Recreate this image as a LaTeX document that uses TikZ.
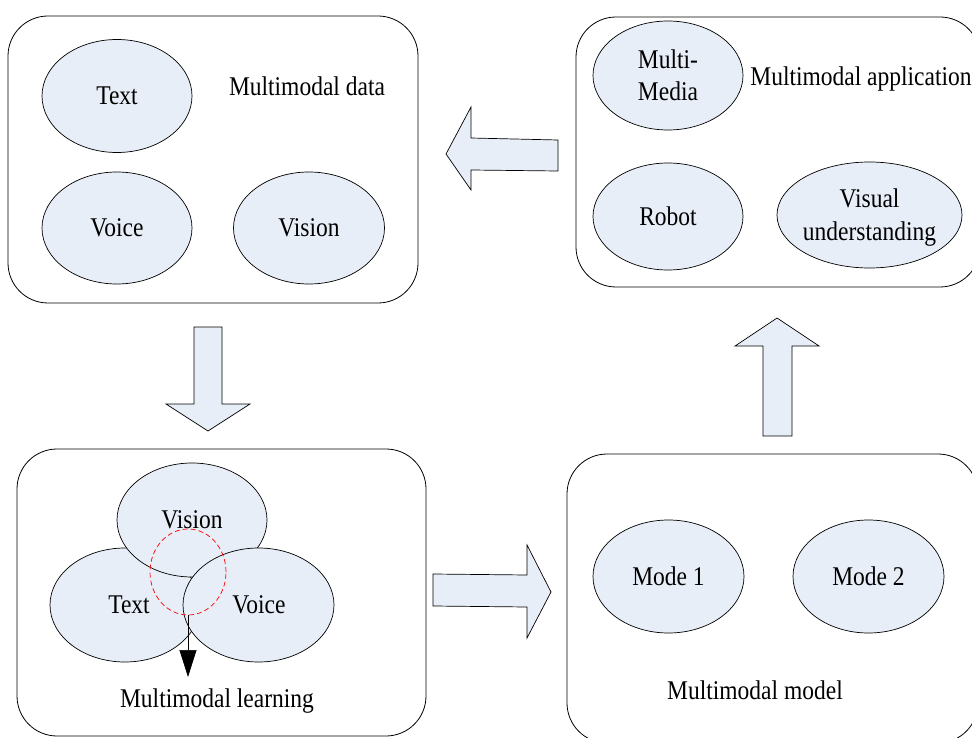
\documentclass[tikz,border=0pt]{standalone}
\usepackage{fontspec}
\setmainfont{Liberation Serif}
\usetikzlibrary{shapes.geometric,arrows.meta}
\definecolor{ellfill}{RGB}{232,238,247}
\newcommand{\lbl}[1]{\makebox[0pt]{\raisebox{-2.5pt}[\height][\depth]{\scalebox{1}[1.15]{\begin{tabular}{@{}c@{}}#1\end{tabular}}}}}
\newcommand{\plaintxt}[1]{\scalebox{1}[1.15]{#1}}
\begin{document}
\begin{tikzpicture}[x=1pt,y=-1pt,
  every node/.style={font=\fontsize{23.5}{28.2}\selectfont},
  panel/.style={draw=black, line width=0.8pt, rounded corners=40pt, inner sep=0pt},
  oval/.style={ellipse, draw=black, line width=0.7pt, fill=ellfill, inner sep=0pt},
  caption/.style={anchor=base, inner sep=0pt},
  blockarrow/.style={draw=black, line width=0.7pt, fill=ellfill, line join=miter},
]
\useasboundingbox (0,0) rectangle (972,738);

% panels
\node[panel, minimum width=410pt, minimum height=287pt] (data) at (213,159.5) {};
\node[panel, minimum width=404pt, minimum height=270pt] (app) at (778,152) {};
\node[panel, minimum width=409pt, minimum height=287pt] (learn) at (221.5,592.5) {};
\node[panel, minimum width=411pt, minimum height=289pt] (model) at (772.5,598.5) {};

% multimodal data
\node[oval, minimum width=150pt, minimum height=113pt] (dtext) at (117,96) {\lbl{Text}};
\node[oval, minimum width=150pt, minimum height=112pt] (dvoice) at (117,228) {\lbl{Voice}};
\node[oval, minimum width=151pt, minimum height=112pt] (dvision) at (309,228) {\lbl{Vision}};
\node[caption] (capdata) at (307,96) {\plaintxt{Multimodal data}};

% multimodal application
\node[oval, minimum width=150pt, minimum height=109pt] (amedia) at (668,75.5) {\lbl{Multi-\\Media}};
\node[oval, minimum width=150pt, minimum height=107pt] (arobot) at (668,216.5) {\lbl{Robot}};
\node[oval, minimum width=185pt, minimum height=106pt] (avisual) at (869.5,215) {\lbl{Visual\\understanding}};
\node[caption] (capapp) at (861,86) {\plaintxt{Multimodal application}};

% multimodal learning
\node[oval, minimum width=150pt, minimum height=114pt] (ltext) at (125,605) {};
\node[oval, minimum width=150pt, minimum height=114pt] (lvision) at (192,520) {\lbl{Vision}};
\node[oval, minimum width=151pt, minimum height=114pt] (lvoice) at (258.5,605) {};
\node[inner sep=0pt] (ltextlbl) at (129,605) {\lbl{Text}};
\node[inner sep=0pt] (lvoicelbl) at (259,605) {\lbl{Voice}};
\node[ellipse, draw=red, line width=0.7pt, dash pattern=on 5pt off 3pt, minimum width=76pt, minimum height=86pt, inner sep=0pt] (inter) at (188,572) {};
\coordinate (lend) at (188,677);
\draw[line width=0.7pt, -{Triangle[length=27pt,width=17pt]}] (inter.south) -- (lend);
\node[caption] (caplearn) at (217,707) {\plaintxt{Multimodal learning}};

% multimodal model
\node[oval, minimum width=151pt, minimum height=113pt] (mode1) at (668.5,576.5) {\lbl{Mode 1}};
\node[oval, minimum width=151pt, minimum height=113pt] (mode2) at (868.5,576.5) {\lbl{Mode 2}};
\node[caption] (capmodel) at (755,699) {\plaintxt{Multimodal model}};

% block arrows
\draw[blockarrow] (558,140) -- (471,138) -- (471,107) -- (446,154) -- (471,190) -- (471,170) -- (558,171) -- cycle;
\draw[blockarrow] (194,327) -- (222,327) -- (222,404) -- (250,404) -- (208,431) -- (166,404) -- (194,404) -- cycle;
\draw[blockarrow] (433,574) -- (527,575) -- (527,545) -- (551,592) -- (527,638) -- (527,607) -- (433,606) -- cycle;
\draw[blockarrow] (763,436) -- (792,436) -- (792,346) -- (819,346) -- (777,318) -- (735,346) -- (763,346) -- cycle;
\end{tikzpicture}
\end{document}
